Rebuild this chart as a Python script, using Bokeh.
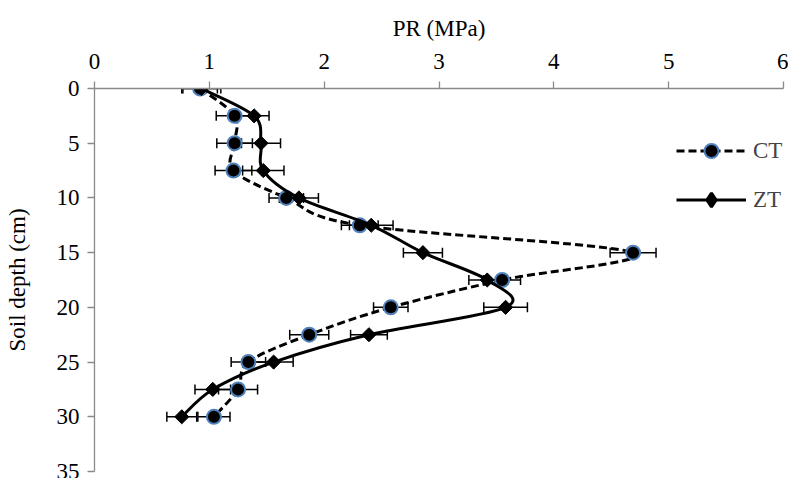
import numpy as np
from bokeh.plotting import figure
from bokeh.models import (Range1d, Whisker, ColumnDataSource, Legend, LegendItem,
                          FixedTicker, TeeHead)
from bokeh.embed import file_html
from bokeh.resources import INLINE

# ---------------- data ----------------
depth = [0, 2.5, 5, 7.5, 10, 12.5, 15, 17.5, 20, 22.5, 25, 27.5, 30]
ct_pr = [0.92, 1.22, 1.22, 1.21, 1.67, 2.31, 4.69, 3.55, 2.58, 1.87, 1.34, 1.25, 1.04]
ct_err = [0.15, 0.16, 0.155, 0.16, 0.15, 0.16, 0.2, 0.16, 0.15, 0.17, 0.15, 0.17, 0.14]
zt_pr = [0.93, 1.39, 1.45, 1.47, 1.78, 2.41, 2.86, 3.42, 3.58, 2.39, 1.56, 1.03, 0.76]
zt_err = [0.17, 0.13, 0.17, 0.18, 0.17, 0.19, 0.17, 0.16, 0.19, 0.16, 0.17, 0.155, 0.13]
x_ticks = [0, 1, 2, 3, 4, 5, 6]
y_ticks = [0, 5, 10, 15, 20, 25, 30, 35]
series_names = ["CT", "ZT"]

FONT = "Liberation Serif"


def smooth_source(xs, ys, t=1.0 / 6.0):
    """Cubic Bezier segments (Excel-like smoothed line) through the data points."""
    x = np.asarray(xs, float)
    y = np.asarray(ys, float)
    n = len(x)
    xp = np.concatenate([[x[0]], x, [x[-1]]])
    yp = np.concatenate([[y[0]], y, [y[-1]]])
    return ColumnDataSource(dict(
        x0=x[:-1], y0=y[:-1], x1=x[1:], y1=y[1:],
        cx0=x[:-1] + (xp[2:n + 1] - xp[0:n - 1]) * t,
        cy0=y[:-1] + (yp[2:n + 1] - yp[0:n - 1]) * t,
        cx1=x[1:] - (xp[3:n + 2] - xp[1:n]) * t,
        cy1=y[1:] - (yp[3:n + 2] - yp[1:n]) * t,
    ))


p = figure(width=788, height=478, output_backend="svg", toolbar_location=None,
           x_axis_location="above", x_range=Range1d(0, 6), y_range=Range1d(35, 0),
           min_border_left=94, min_border_top=88, min_border_right=5, min_border_bottom=7)
p.outline_line_color = None
p.grid.visible = False
p.background_fill_color = "white"
p.border_fill_color = "white"

for ax in (p.xaxis[0], p.yaxis[0]):
    ax.axis_line_color = "#8a8a8a"
    ax.axis_line_width = 1.3
    ax.major_tick_line_color = "#8a8a8a"
    ax.major_tick_line_width = 1.3
    ax.major_tick_in = 0
    ax.major_tick_out = 7
    ax.minor_tick_line_color = None
    ax.major_label_text_font = FONT
    ax.major_label_text_font_size = "23px"
    ax.major_label_text_color = "black"
    ax.axis_label_text_font = FONT
    ax.axis_label_text_font_size = "23px"
    ax.axis_label_text_font_style = "normal"
    ax.axis_label_text_color = "black"

p.xaxis.ticker = FixedTicker(ticks=x_ticks)
p.yaxis.ticker = FixedTicker(ticks=y_ticks)
p.xaxis.axis_label = "PR (MPa)"
p.yaxis.axis_label = "Soil depth (cm)"
p.xaxis.major_label_standoff = 13
p.yaxis.major_label_standoff = 8
p.xaxis.axis_label_standoff = 10
p.yaxis.axis_label_standoff = 24

# error bars
ct_src = ColumnDataSource(dict(x=ct_pr, y=depth,
                               lo=np.array(ct_pr) - np.array(ct_err),
                               hi=np.array(ct_pr) + np.array(ct_err)))
zt_src = ColumnDataSource(dict(x=zt_pr, y=depth,
                               lo=np.array(zt_pr) - np.array(zt_err),
                               hi=np.array(zt_pr) + np.array(zt_err)))
for src in (ct_src, zt_src):
    w = Whisker(source=src, base="y", lower="lo", upper="hi", dimension="width",
                line_color="black", line_width=1.5, level="underlay",
                upper_head=TeeHead(size=10, line_color="black", line_width=1.5),
                lower_head=TeeHead(size=10, line_color="black", line_width=1.5))
    p.add_layout(w)

# CT
ct_line = p.bezier(x0="x0", y0="y0", x1="x1", y1="y1", cx0="cx0", cy0="cy0",
                   cx1="cx1", cy1="cy1", source=smooth_source(ct_pr, depth),
                   line_color="black", line_width=3, line_dash="8 4")
ct_pts = p.scatter("x", "y", source=ct_src, marker="circle", size=14,
                   fill_color="black", line_color="#4f81bd", line_width=2)
# ZT
zt_line = p.bezier(x0="x0", y0="y0", x1="x1", y1="y1", cx0="cx0", cy0="cy0",
                   cx1="cx1", cy1="cy1", source=smooth_source(zt_pr, depth),
                   line_color="black", line_width=3)
zt_pts = p.scatter("x", "y", source=zt_src, marker="square", size=10, angle=np.pi / 4,
                   fill_color="black", line_color="black", line_width=1)
# legend-only diamond symbol (no visible data point)
zt_key = p.scatter(x=[np.nan], y=[np.nan], marker="diamond", size=14,
                   fill_color="black", line_color="black", line_width=3)

legend = Legend(items=[LegendItem(label=series_names[0], renderers=[ct_line, ct_pts]),
                       LegendItem(label=series_names[1], renderers=[zt_line, zt_key])],
                location=(582, 254), padding=0, margin=0, spacing=14,
                glyph_width=70, glyph_height=35, label_height=27, label_standoff=7,
                label_text_font=FONT, label_text_font_size="23px",
                border_line_color=None, background_fill_alpha=0)
p.add_layout(legend)

open("out.html", "w").write(file_html(p, INLINE))
